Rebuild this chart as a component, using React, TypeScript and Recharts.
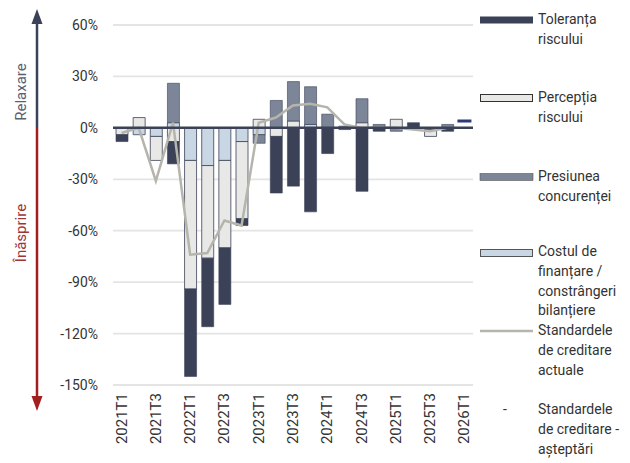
import React from 'react';
import { ComposedChart, Bar, Line, XAxis, YAxis, CartesianGrid, ReferenceLine } from 'recharts';

const categories = [
  '2021T1', '2021T2', '2021T3', '2021T4',
  '2022T1', '2022T2', '2022T3', '2022T4',
  '2023T1', '2023T2', '2023T3', '2023T4',
  '2024T1', '2024T2', '2024T3', '2024T4',
  '2025T1', '2025T2', '2025T3', '2025T4',
  '2026T1',
];

const costul = [0, -4, -5, 3, -19, -22, -19, -8, -4, 0, 0, 2, 0, 0, 0, 0, 0, 0, -1, 0, 0];
const perceptia = [-4, 6, -14, -8, -75, -54, -51, -45, 5, -5, 4, 0, 0, 0, 3, 0, 5, 0, -4, 0, 0];
const presiunea = [0, 0, 0, 23, 0, 0, 0, 0, -5, 16, 23, 22, 8, 1, 14, 2, -2, 0, 0, 2, 0];
const toleranta = [-4, 0, 0, -13, -51, -40, -33, -4, 0, -33, -34, -49, -15, -1, -37, -2, 0, 3, 0, -2, 0];
const standardeActuale: (number | null)[] = [-3, 0, -31, 3, -74, -73, -54, -57, 3, 6, 13, 14, 12, 2, 0, 0, 0, -1, -2, 0, null];
const standardeAsteptari: (number | null)[] = [null, null, null, null, null, null, null, null, null, null, null, null, null, null, null, null, null, null, null, null, 4];

const yTicks = [-150, -120, -90, -60, -30, 0, 30, 60];

const data = categories.map((cat, i) => ({
  cat,
  costul: costul[i],
  perceptia: perceptia[i],
  presiunea: presiunea[i],
  toleranta: toleranta[i],
  actuale: standardeActuale[i],
  asteptari: standardeAsteptari[i],
}));

const C_TOL = '#3b4257';
const C_PER = '#e8e8e6';
const C_PRE = '#7c8698';
const C_COST = '#c9d6e4';
const C_LINE = '#b5b5ab';
const C_EXP = '#2c3b78';
const FONT = 'Roboto, Arial, sans-serif';

const XTick = (props: any) => {
  const { x, y, payload } = props;
  return (
    <text
      x={x}
      y={y}
      transform={`rotate(-90 ${x} ${y})`}
      textAnchor="end"
      dominantBaseline="central"
      fontSize={15}
      fontFamily={FONT}
      fill="#333"
    >
      {payload.value}
    </text>
  );
};

const YTick = (props: any) => {
  const { y, payload } = props;
  return (
    <text x={98} y={y} textAnchor="end" dominantBaseline="central" fontSize={14} fontFamily={FONT} fill="#333">
      {payload.value + '%'}
    </text>
  );
};

const ExpDot = (props: any) => {
  const { cx, cy, value, index } = props;
  if (value === null || value === undefined || cy === null || cy === undefined) return <g key={`e${index}`} />;
  return <rect key={`e${index}`} x={cx - 7} y={cy - 1.5} width={14} height={3} fill={C_EXP} />;
};

const legendText: React.CSSProperties = {
  position: 'absolute',
  left: 538,
  fontSize: 14,
  lineHeight: '19.8px',
  color: '#333',
  fontFamily: FONT,
  whiteSpace: 'nowrap',
};

const LegendItem = ({ top, lines }: { top: number; lines: string[] }) => (
  <div style={{ ...legendText, top: top - 10 }}>
    {lines.map((l, i) => (
      <div key={i}>{l}</div>
    ))}
  </div>
);

export default function App() {
  return (
    <div style={{ position: 'absolute', left: 0, top: 0, width: 630, height: 463, background: '#fff' }}>
      <ComposedChart
        width={630}
        height={463}
        data={data}
        stackOffset="sign"
        margin={{ top: 25, right: 157, bottom: 0, left: 0 }}
      >
        <CartesianGrid vertical={false} stroke="#e4e4e4" strokeWidth={1.8} />
        <XAxis
          dataKey="cat"
          interval={1}
          axisLine={false}
          tickLine={false}
          tick={<XTick />}
          height={78}
        />
        <YAxis
          width={113}
          domain={[-150, 60]}
          ticks={yTicks}
          axisLine={false}
          tickLine={false}
          tick={<YTick />}
        />
        <Bar dataKey="costul" stackId="a" fill={C_COST} stroke={C_TOL} strokeWidth={0.8} barSize={12} isAnimationActive={false} />
        <Bar dataKey="perceptia" stackId="a" fill={C_PER} stroke={C_TOL} strokeWidth={0.8} barSize={12} isAnimationActive={false} />
        <Bar dataKey="presiunea" stackId="a" fill={C_PRE} stroke={C_TOL} strokeWidth={0.6} barSize={12} isAnimationActive={false} />
        <Bar dataKey="toleranta" stackId="a" fill={C_TOL} stroke={C_TOL} strokeWidth={0.6} barSize={12} isAnimationActive={false} />
        <Line dataKey="actuale" type="linear" stroke={C_LINE} strokeWidth={2.5} dot={false} isAnimationActive={false} />
        <ReferenceLine y={0} stroke={C_TOL} strokeWidth={2.5} />
        <Line dataKey="asteptari" stroke="none" dot={<ExpDot />} activeDot={false} isAnimationActive={false} />
      </ComposedChart>

      <svg width={110} height={463} style={{ position: 'absolute', left: 0, top: 0, pointerEvents: 'none' }}>
        <line x1={37} y1={22} x2={37} y2={127} stroke={C_TOL} strokeWidth={2.5} />
        <polygon points="37,9 31.5,24 42.5,24" fill={C_TOL} />
        <line x1={37} y1={127} x2={37} y2={398} stroke="#a31f1f" strokeWidth={2.5} />
        <polygon points="37,411 31.5,396 42.5,396" fill="#a31f1f" />
        <text
          x={21}
          y={92}
          transform="rotate(-90 21 92)"
          textAnchor="middle"
          dominantBaseline="central"
          fontSize={15}
          fontFamily={FONT}
          fill="#5b6070"
        >
          Relaxare
        </text>
        <text
          x={21}
          y={233}
          transform="rotate(-90 21 233)"
          textAnchor="middle"
          dominantBaseline="central"
          fontSize={15}
          fontFamily={FONT}
          fill="#9e3535"
        >
          Înăsprire
        </text>
      </svg>

      <svg width={60} height={463} style={{ position: 'absolute', left: 475, top: 0, pointerEvents: 'none' }}>
        <rect x={5} y={16.5} width={53} height={7} fill={C_TOL} />
        <rect x={5.5} y={94.5} width={52} height={7} fill={C_PER} stroke="#333" strokeWidth={1} />
        <rect x={5} y={173.5} width={53} height={7} fill={C_PRE} stroke="#555" strokeWidth={0.6} />
        <rect x={5.5} y={249.5} width={52} height={7} fill={C_COST} stroke="#555" strokeWidth={1} />
        <line x1={5} y1={331} x2={58} y2={331} stroke={C_LINE} strokeWidth={2.5} />
      </svg>

      <LegendItem top={20} lines={['Toleranța', 'riscului']} />
      <LegendItem top={98} lines={['Percepția', 'riscului']} />
      <LegendItem top={177} lines={['Presiunea', 'concurenței']} />
      <LegendItem top={252} lines={['Costul de', 'finanțare /', 'constrângeri', 'bilanțiere']} />
      <LegendItem top={331} lines={['Standardele', 'de creditare', 'actuale']} />
      <div style={{ ...legendText, left: 503, top: 400 }}>-</div>
      <LegendItem top={410} lines={['Standardele', 'de creditare -', 'așteptări']} />
    </div>
  );
}
